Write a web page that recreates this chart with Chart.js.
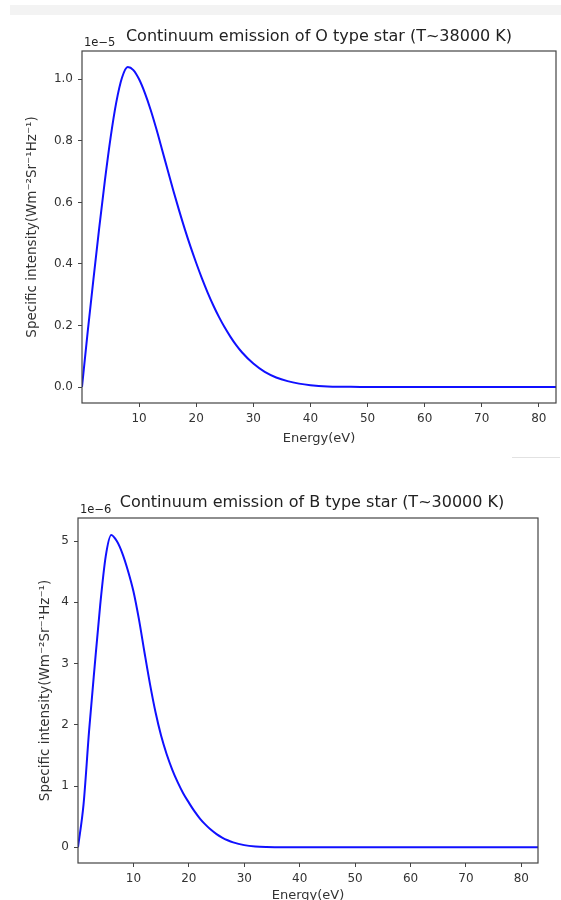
<!DOCTYPE html>
<html>
<head>
<meta charset="utf-8">
<script src="https://cdn.jsdelivr.net/npm/chart.js@4/dist/chart.umd.min.js"></script>
<style>
    body { margin: 0; width: 561px; height: 900px; overflow: hidden; background: #fff; position: relative; }
    .box { position: absolute; left: 0; }
    #topBand { position: absolute; left: 10px; top: 5px; width: 551px; height: 10px; background: #f3f3f3; }
    #sepLine { position: absolute; left: 512px; top: 457px; width: 48px; height: 1px; background: #e2e2e2; }
</style>
</head>
<body>
<div id="topBand"></div>
<div class="box" style="top:0px"><canvas id="oChart" width="561" height="460"></canvas></div>
<div class="box" style="top:460px"><canvas id="bChart" width="561" height="450"></canvas></div>
<div id="sepLine"></div>
<script>
// Energy samples (eV), shared by both curves
const energyEv = [0, 1, 2, 3, 4, 5, 6, 7, 8, 9, 10, 11, 12, 13, 14, 15, 16, 17, 18, 19, 20,
    21, 22, 23, 24, 25, 26, 27, 28, 30, 32, 34, 36, 38, 40, 43, 46, 50, 60, 70, 83];

// O type star, intensity in units of 1e-5
const oIntensity = [0, 0.18, 0.35, 0.515, 0.67, 0.81, 0.925, 1.005, 1.04, 1.03, 1.0, 0.956, 0.902, 0.84, 0.773, 0.705, 0.638, 0.574, 0.513, 0.456, 0.403,
    0.353, 0.307, 0.265, 0.227, 0.193, 0.163, 0.136, 0.113, 0.076, 0.049, 0.031, 0.019, 0.011, 0.006, 0.002, 0.001, 0, 0, 0, 0];

// B type star, intensity in units of 1e-6
const bIntensity = [0, 0.7, 1.9, 2.95, 3.95, 4.75, 5.1, 5.0, 4.8, 4.52, 4.18, 3.72, 3.18, 2.66, 2.2, 1.82, 1.52, 1.27, 1.06, 0.88, 0.73,
    0.59, 0.47, 0.37, 0.285, 0.215, 0.16, 0.115, 0.08, 0.036, 0.014, 0.005, 0.002, 0, 0, 0, 0, 0, 0, 0, 0];

const xTicks = [10, 20, 30, 40, 50, 60, 70, 80];
const oYTicks = [0, 0.2, 0.4, 0.6, 0.8, 1.0];
const bYTicks = [0, 1, 2, 3, 4, 5];

const FONT = '"DejaVu Sans", sans-serif';
const TEXT = '#333';
const AXIS = '#444';

// frame round the plot area, title and the offset text
const framePlugin = {
    id: 'frame',
    afterDraw(chart, args, opts) {
        const { ctx, chartArea: a } = chart;
        ctx.save();
        ctx.strokeStyle = AXIS;
        ctx.lineWidth = 1.2;
        ctx.strokeRect(a.left, a.top, a.right - a.left, a.bottom - a.top);
        ctx.fillStyle = '#222';
        ctx.font = '16px ' + FONT;
        ctx.textAlign = 'center';
        ctx.textBaseline = 'middle';
        ctx.fillText(opts.title, (a.left + a.right) / 2 + opts.titleDx, opts.titleY);
        ctx.font = '11.5px ' + FONT;
        ctx.textAlign = 'left';
        ctx.fillText(opts.offsetText, a.left + 2, a.top - 8);
        ctx.restore();
    }
};

function makeChart(id, values, yTicks, cfg) {
    const ctx = document.getElementById(id).getContext('2d');
    return new Chart(ctx, {
        type: 'line',
        data: {
            datasets: [{
                data: energyEv.map((e, i) => ({ x: e, y: values[i] })),
                borderColor: '#1010ff',
                borderWidth: 2,
                pointRadius: 0,
                fill: false,
                cubicInterpolationMode: 'monotone'
            }]
        },
        options: {
            responsive: false,
            devicePixelRatio: 1,
            animation: false,
            layout: { padding: { top: cfg.padTop, right: cfg.padRight, left: 0, bottom: 0 } },
            plugins: {
                legend: { display: false },
                tooltip: { enabled: false },
                frame: { title: cfg.title, titleDx: cfg.titleDx, titleY: cfg.titleY, offsetText: cfg.offsetText }
            },
            scales: {
                x: {
                    type: 'linear',
                    min: 0,
                    max: 83,
                    afterBuildTicks: scale => { scale.ticks = xTicks.map(v => ({ value: v })); },
                    afterFit: scale => { scale.height = cfg.xHeight; },
                    grid: { drawOnChartArea: false, tickLength: 4, color: AXIS },
                    border: { display: false },
                    ticks: { color: TEXT, font: { family: FONT, size: 12 }, padding: 5, maxRotation: 0 },
                    title: { display: true, text: 'Energy(eV)', color: TEXT, font: { family: FONT, size: 13 }, padding: { top: 0, bottom: cfg.xTitlePad } }
                },
                y: {
                    min: cfg.yMin,
                    max: cfg.yMax,
                    afterBuildTicks: scale => { scale.ticks = yTicks.map(v => ({ value: v })); },
                    afterFit: scale => { scale.width = cfg.yWidth; },
                    grid: { drawOnChartArea: false, tickLength: 4, color: AXIS },
                    border: { display: false },
                    ticks: { color: TEXT, font: { family: FONT, size: 12 }, padding: 5, callback: cfg.tickFormat },
                    title: { display: true, text: 'Specific intensity(Wm⁻²Sr⁻¹Hz⁻¹)', color: TEXT, font: { family: FONT, size: 13.5 }, padding: { top: cfg.yTitlePad, bottom: 0 } }
                }
            }
        },
        plugins: [framePlugin]
    });
}

makeChart('oChart', oIntensity, oYTicks, {
    padTop: 51, padRight: 5, xHeight: 57, yWidth: 82,
    yMin: -0.052, yMax: 1.092,
    xTitlePad: 14, yTitlePad: 24,
    title: 'Continuum emission of O type star (T~38000 K)', titleDx: 0, titleY: 37,
    offsetText: '1e\u22125',
    tickFormat: v => v.toFixed(1)
});

makeChart('bChart', bIntensity, bYTicks, {
    padTop: 58, padRight: 23, xHeight: 47, yWidth: 78,
    yMin: -0.256, yMax: 5.376,
    xTitlePad: 7, yTitlePad: 37,
    title: 'Continuum emission of B type star (T~30000 K)', titleDx: 4, titleY: 43,
    offsetText: '1e\u22126',
    tickFormat: v => String(v)
});
</script>
</body>
</html>
